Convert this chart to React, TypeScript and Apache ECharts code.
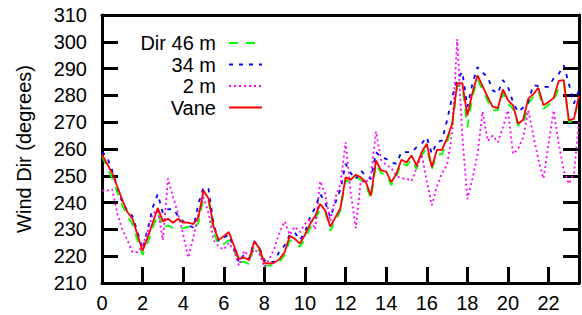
import React, { useEffect, useRef } from "react";
import * as echarts from "echarts";

// Wind direction (degrees), one sample every 15 minutes from hour 0 to 23.5
const dir46m = [
  257.5, 253, 249, 244, 239, 235, 232, 226, 220.5, 225, 230.5, 236, 230.5, 231.5, 230.5, 230,
  230.5, 231, 230, 232.5, 241.5, 240.5, 229, 224, 224.5, 226, 222.5, 217.5, 218, 217, 224, 222,
  216.5, 216.5, 216.8, 218, 220.5, 226, 225, 223.5, 226.5, 230.5, 233.5, 237.5, 236.5, 229.5, 233, 237,
  248.5, 247.5, 249.5, 248.5, 246.5, 241.5, 254.5, 251, 250.5, 246.5, 249.5, 255, 253.8, 256, 252.5, 257.5,
  260.5, 252.5, 258, 258, 262.5, 268, 283.5, 283.5, 268.2, 279.5, 286, 282, 278, 274.5, 274.4, 280.7,
  277, 275, 268.8, 268.8, 276.9, 279.5, 281.5, 275, 276.5, 278, 282.7, 284.5, 270, 270.7, 279,
];
const dir34m = [
  259, 257, 252, 246, 240, 237, 235, 229, 222.6, 230, 238.2, 243.2, 236, 237.5, 237.6, 235,
  233, 231.5, 230.7, 239.5, 245.7, 245, 232, 225.7, 227, 228, 223, 217.6, 220.7, 219, 225.7, 223.2,
  218.5, 217.6, 218, 222, 224, 228, 228.8, 226, 229, 234.5, 238, 243.2, 240, 234.5, 240, 245,
  254.5, 251, 248.8, 252, 250, 248.8, 258.8, 257, 256.3, 255, 254.5, 258.8, 258.8, 258.8, 260.7, 262,
  264.4, 258.2, 262.5, 263.2, 270.7, 279.4, 286, 288.8, 275.7, 284.4, 290.6, 288.5, 286.9, 281.9, 280.7, 285.7,
  283.2, 277.5, 273.8, 275.5, 277.5, 283.8, 283.5, 283.2, 283.2, 286.3, 288, 291.3, 284.4, 276.9, 281.9,
];
const dir2m = [
  244.5, 244.5, 245, 236, 230, 226, 221.5, 221.5, 224, 229, 236, 237, 226, 249, 242, 236,
  228, 219.5, 227, 236, 242, 236, 226, 223.5, 222.5, 225, 222, 216.5, 222, 220, 222.5, 221,
  216, 219, 223, 229, 233, 228, 231, 229, 232, 234, 230, 248, 243, 233, 242, 247,
  262.5, 244, 230.5, 248, 247.5, 250, 266.5, 256, 254, 253, 250, 249, 249, 248, 253, 258,
  248, 239, 246, 251, 254, 266, 301, 265, 241.3, 249, 258, 274, 263, 265, 262.5, 268,
  274.4, 258.2, 260, 264.4, 274.4, 265, 256, 249, 262, 274.4, 262, 252, 247, 250.7, 270,
];
const vane = [
  258, 254.5, 251, 246, 241, 236.5, 234, 228, 222, 227, 232.5, 238, 233, 234, 232.5, 234,
  232.5, 232.5, 232, 234.5, 244.5, 241.5, 231, 226, 227.5, 229, 224, 219, 219.5, 218.5, 225.5, 223,
  217.5, 217.2, 217.6, 219, 221.5, 227.5, 226.5, 224.7, 228, 232, 235, 239.5, 237, 231, 234.5, 238,
  249.4, 248.5, 250.4, 249.4, 247.6, 242.6, 255.7, 252, 251.6, 247.6, 250.7, 256, 255, 257.6, 253.8, 258.8,
  262, 253.2, 259.7, 259.7, 264, 269.4, 284.6, 284.6, 272.5, 281, 287.5, 283.5, 279.4, 275.7, 275.3, 282.2,
  278.2, 276.3, 269.4, 270.9, 278.8, 280.5, 282.8, 276.3, 277.5, 279, 285.4, 285.7, 270.7, 271.2, 280,
];
const SAMPLE_STEP_H = 0.25;
const hours = vane.map((_, i) => i * SAMPLE_STEP_H);

const xTicks = [0, 2, 4, 6, 8, 10, 12, 14, 16, 18, 20, 22];
const seriesNames = ["Dir 46 m", "34 m", "2 m", "Vane"];
const seriesColors = ["#00ff00", "#0000ff", "#ff00ff", "#ff0000"];
const seriesDash: (number[] | "solid")[] = [[9, 8], [4, 6], [2, 3], "solid"];
const seriesData = [dir46m, dir34m, dir2m, vane];

const FONT = "'Liberation Sans', Arial, sans-serif";

export default function App() {
  const ref = useRef<HTMLDivElement>(null);
  useEffect(() => {
    if (!ref.current) return;
    const chart = echarts.init(ref.current, undefined, { renderer: "svg" });
    const axisLineStyle = { color: "#000", width: 3 };
    const tickStyle = { color: "#000", width: 3 };
    const legendRowY = [43, 64.5, 86, 107.5];
    const legendGraphics: any[] = [];
    seriesNames.forEach((name, k) => {
      legendGraphics.push({
        type: "text",
        x: 216,
        y: legendRowY[k],
        style: {
          text: name,
          fill: "#000",
          font: `20px ${FONT}`,
          textAlign: "right",
          textVerticalAlign: "middle",
        },
      });
      legendGraphics.push({
        type: "line",
        shape: { x1: 229, y1: legendRowY[k], x2: 262, y2: legendRowY[k] },
        style: {
          stroke: seriesColors[k],
          lineWidth: 2,
          lineDash: seriesDash[k] === "solid" ? null : seriesDash[k],
        },
      });
    });
    chart.setOption({
      animation: false,
      backgroundColor: "#fff",
      grid: { left: 102, right: 1, top: 15, bottom: 32 },
      xAxis: [
        {
          type: "value",
          min: 0,
          max: 23.5,
          interval: 2,
          position: "bottom",
          axisLine: { show: true, onZero: false, lineStyle: axisLineStyle },
          axisTick: { show: true, inside: true, length: 16, lineStyle: tickStyle },
          axisLabel: {
            show: true,
            fontSize: 20,
            fontFamily: FONT,
            color: "#000",
            margin: 10,
            formatter: (v: number) => (xTicks.includes(v) ? String(v) : ""),
          },
          splitLine: { show: false },
        },
        {
          type: "value",
          min: 0,
          max: 23.5,
          position: "top",
          axisLine: { show: true, onZero: false, lineStyle: axisLineStyle },
          axisTick: { show: false },
          axisLabel: { show: false },
          splitLine: { show: false },
        },
      ],
      yAxis: [
        {
          type: "value",
          min: 210,
          max: 310,
          interval: 10,
          position: "left",
          name: "Wind Dir (degrees)",
          nameLocation: "middle",
          nameGap: 68,
          nameTextStyle: { fontSize: 20, fontFamily: FONT, color: "#000" },
          axisLine: { show: true, onZero: false, lineStyle: axisLineStyle },
          axisTick: { show: true, inside: true, length: 16, lineStyle: tickStyle },
          axisLabel: { fontSize: 20, fontFamily: FONT, color: "#000", margin: 15 },
          splitLine: { show: false },
        },
        {
          type: "value",
          min: 210,
          max: 310,
          interval: 10,
          position: "right",
          axisLine: { show: true, onZero: false, lineStyle: axisLineStyle },
          axisTick: { show: true, inside: true, length: 16, lineStyle: tickStyle },
          axisLabel: { show: false },
          splitLine: { show: false },
        },
      ],
      series: seriesData.map((d, k) => ({
        name: seriesNames[k],
        type: "line",
        xAxisIndex: 0,
        yAxisIndex: 0,
        showSymbol: false,
        symbol: "none",
        clip: true,
        data: d.map((v, i) => [hours[i], v]),
        lineStyle: {
          color: seriesColors[k],
          width: k === 3 ? 1.8 : 1.8,
          type: seriesDash[k],
        },
        z: 2 + k,
      })),
      graphic: legendGraphics,
    });
    return () => chart.dispose();
  }, []);
  return (
    <div
      ref={ref}
      style={{ position: "fixed", left: 0, top: 0, width: 582, height: 315 }}
    />
  );
}
